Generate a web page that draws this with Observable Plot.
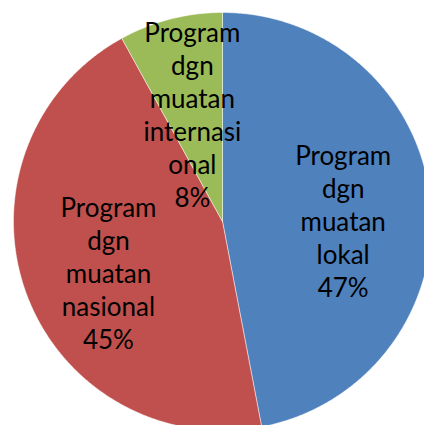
<!DOCTYPE html>
<html>
<head>
<meta charset="utf-8">
<script src="https://cdn.jsdelivr.net/npm/d3@7"></script>
<script src="https://cdn.jsdelivr.net/npm/@observablehq/plot@0.6"></script>
<style>
  html, body { margin: 0; padding: 0; background: #fff; }
  #chart { width: 424px; height: 425px; overflow: hidden; }
</style>
</head>
<body>
<div id="chart"></div>
<script>
const categories = ["Program dgn muatan lokal", "Program dgn muatan nasional", "Program dgn muatan internasional"];
const values = [47, 45, 8];
const labels = ["Program\ndgn\nmuatan\nlokal\n47%", "Program\ndgn\nmuatan\nnasional\n45%", "Program\ndgn\nmuatan\ninternasi\nonal\n8%"];
const colors = ["#4F81BD", "#C0504D", "#9BBB59"];

const total = d3.sum(values);
const slicePts = [];
const labelData = [];
let acc = 0;
categories.forEach((c, i) => {
  const a0 = acc / total * 2 * Math.PI;
  const a1 = (acc + values[i]) / total * 2 * Math.PI;
  acc += values[i];
  slicePts.push({cat: c, x: 0, y: 0});
  const n = Math.max(2, Math.ceil((a1 - a0) / (Math.PI / 360)));
  for (let k = 0; k <= n; k++) {
    const a = a0 + (a1 - a0) * k / n;
    slicePts.push({cat: c, x: Math.sin(a), y: Math.cos(a)});
  }
  slicePts.push({cat: c, x: 0, y: 0});
  const am = (a0 + a1) / 2;
  const r = 0.58;
  labelData.push({cat: c, text: labels[i], x: r * Math.sin(am), y: r * Math.cos(am)});
});

const chart = Plot.plot({
  width: 424,
  height: 425,
  margin: 0,
  x: {domain: [-1, 1], range: [13, 431], axis: null},
  y: {domain: [-1, 1], range: [430, 12], axis: null},
  color: {domain: categories, range: colors},
  style: {background: "white", fontFamily: "Lato, sans-serif"},
  marks: [
    Plot.line(slicePts, {x: "x", y: "y", z: "cat", fill: "cat", stroke: "white", strokeWidth: 0.8, strokeOpacity: 0.6}),
    Plot.text(labelData, {x: "x", y: "y", dy: 10, text: "text", fill: "black", fontSize: 26, lineHeight: 1.27, fontFamily: "Lato, sans-serif"})
  ]
});
document.getElementById("chart").appendChild(chart);
</script>
</body>
</html>
